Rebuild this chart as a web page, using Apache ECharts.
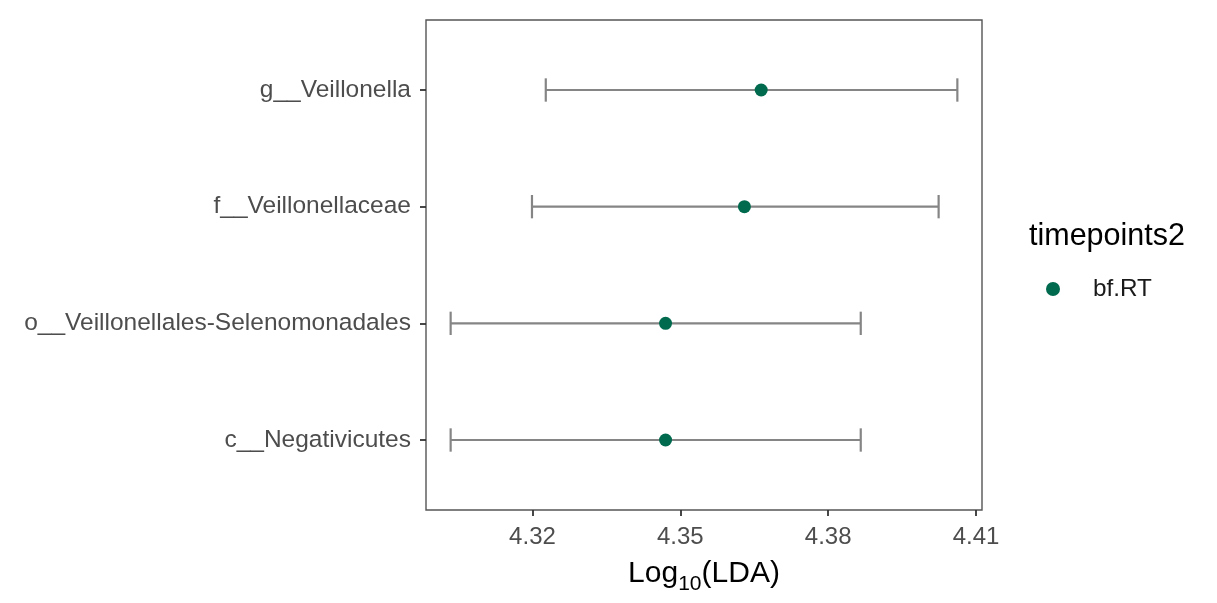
<!DOCTYPE html>
<html><head><meta charset="utf-8">
<script src="https://cdn.jsdelivr.net/npm/echarts@6/dist/echarts.min.js"></script>
<style>html,body{margin:0;padding:0;background:#fff}#c{width:1217px;height:603px}</style>
</head><body><div id="c"></div>
<script>
const categories = ['g__Veillonella', 'f__Veillonellaceae', 'o__Veillonellales-Selenomonadales', 'c__Negativicutes'];
const lda = [4.3664, 4.3630, 4.3470, 4.3470];
const ldaLow = [4.3227, 4.3199, 4.3034, 4.3034];
const ldaHigh = [4.4062, 4.4024, 4.3866, 4.3866];
const xTicks = [4.32, 4.35, 4.38, 4.41];
const seriesName = 'bf.RT';
const legendTitle = 'timepoints2';

const n = categories.length;
const yPos = categories.map((c, i) => n - i);
const FONT = '"Liberation Sans", Arial, sans-serif';

const chart = echarts.init(document.getElementById('c'), null, {renderer: 'canvas'});
chart.setOption({
  animation: false,
  backgroundColor: '#fff',
  textStyle: {fontFamily: FONT},
  grid: {left: 426, right: 235, top: 20, bottom: 93, show: true, borderColor: '#555', borderWidth: 1.4, backgroundColor: '#fff'},
  xAxis: {
    type: 'value', min: 4.2984, max: 4.4112,
    axisLine: {show: false},
    splitLine: {show: false},
    axisTick: {show: true, length: 6, lineStyle: {color: '#333', width: 1.8}, customValues: xTicks},
    axisLabel: {customValues: xTicks, fontSize: 24, color: '#4d4d4d', margin: 15, fontFamily: FONT,
      formatter: v => v.toFixed(2)},
    name: '{a|Log}{s|10}{a|(LDA)}',
    nameLocation: 'middle', nameGap: 47,
    nameTextStyle: {
      rich: {
        a: {fontSize: 30, color: '#000', fontFamily: FONT, lineHeight: 34},
        s: {fontSize: 21, color: '#000', fontFamily: FONT, verticalAlign: 'bottom', padding: [0, 0, -4, 0]}
      }
    }
  },
  yAxis: {
    type: 'value', min: 0.4, max: 4.6,
    axisLine: {show: false},
    splitLine: {show: false},
    axisTick: {show: true, length: 6, lineStyle: {color: '#333', width: 1.8}, customValues: yPos},
    axisLabel: {customValues: yPos, fontSize: 24.5, color: '#4d4d4d', margin: 15, fontFamily: FONT,
      formatter: v => categories[n - Math.round(v)]}
  },
  legend: {
    data: [{name: seriesName, icon: 'circle', itemStyle: {opacity: 1}}],
    left: 1046, top: 277, padding: 0,
    itemWidth: 14, itemHeight: 14,
    textStyle: {fontSize: 24.3, color: '#1a1a1a', fontFamily: FONT, padding: [0, 0, 0, 28]}
  },
  graphic: [{
    type: 'text', left: 1029, top: 221,
    style: {text: legendTitle, fontSize: 30.5, fill: '#000', fontFamily: FONT}
  }],
  series: [{
    type: 'custom',
    name: 'err',
    data: categories.map((c, i) => [ldaLow[i], ldaHigh[i], yPos[i]]),
    renderItem: (params, api) => {
      const lo = api.coord([api.value(0), api.value(2)]);
      const hi = api.coord([api.value(1), api.value(2)]);
      const h = api.size([0, 0.1])[1];
      const style = {stroke: '#858585', lineWidth: 2.2};
      return {type: 'group', children: [
        {type: 'line', shape: {x1: lo[0], y1: lo[1], x2: hi[0], y2: hi[1]}, style},
        {type: 'line', shape: {x1: lo[0], y1: lo[1] - h, x2: lo[0], y2: lo[1] + h}, style},
        {type: 'line', shape: {x1: hi[0], y1: hi[1] - h, x2: hi[0], y2: hi[1] + h}, style}
      ]};
    },
    z: 2
  }, {
    type: 'scatter',
    name: seriesName,
    data: categories.map((c, i) => [lda[i], yPos[i]]),
    symbol: 'circle', symbolSize: 13,
    itemStyle: {color: '#006A4E', opacity: 1},
    z: 3
  }]
});
</script></body></html>
